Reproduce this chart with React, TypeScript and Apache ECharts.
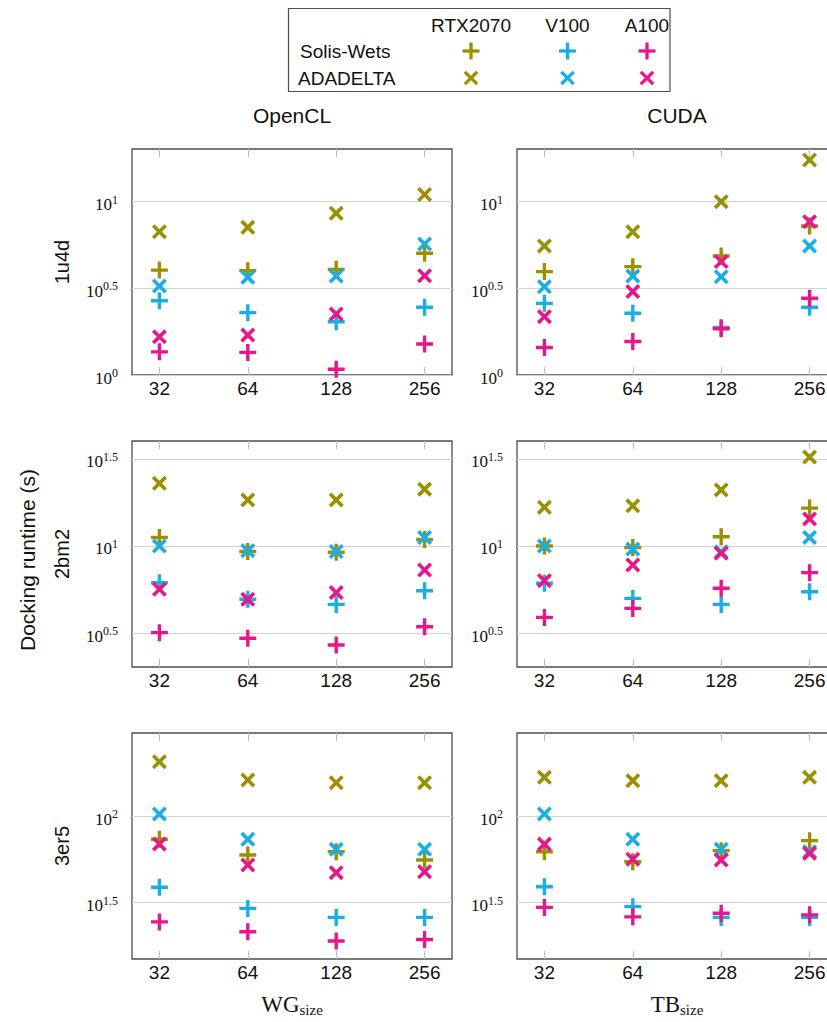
import { useEffect, useRef } from "react";
import * as echarts from "echarts";

// ---------- data ----------
const sizes = [32, 64, 128, 256];
const gpus = ["RTX2070", "V100", "A100"];
const algorithms = ["Solis-Wets", "ADADELTA"];
const apis = ["OpenCL", "CUDA"];
const molecules = ["1u4d", "2bm2", "3er5"];

// docking runtime (s); rows: RTX2070, V100, A100; columns: sizes
const openCL_1u4d_SW = [
  [4.03, 4.0, 4.07, 5.04],
  [2.68, 2.29, 2.03, 2.46],
  [1.36, 1.35, 1.08, 1.51],
];
const openCL_1u4d_AD = [
  [6.71, 7.11, 8.57, 11.0],
  [3.26, 3.66, 3.72, 5.7],
  [1.66, 1.7, 2.25, 3.74],
];
const cuda_1u4d_SW = [
  [3.95, 4.22, 4.86, 7.24],
  [2.59, 2.27, 1.88, 2.46],
  [1.44, 1.56, 1.85, 2.77],
];
const cuda_1u4d_AD = [
  [5.55, 6.71, 10.0, 17.4],
  [3.23, 3.72, 3.69, 5.55],
  [2.17, 3.03, 4.51, 7.67],
];
const openCL_2bm2_SW = [
  [11.2, 9.3, 9.2, 10.9],
  [6.15, 4.94, 4.62, 5.53],
  [3.18, 2.95, 2.7, 3.44],
];
const openCL_2bm2_AD = [
  [22.9, 18.4, 18.4, 21.2],
  [10.0, 9.4, 9.3, 11.2],
  [5.64, 4.94, 5.4, 7.28],
];
const cuda_2bm2_SW = [
  [10.0, 9.8, 11.3, 16.5],
  [6.11, 5.0, 4.62, 5.46],
  [3.89, 4.38, 5.72, 7.03],
];
const cuda_2bm2_AD = [
  [16.7, 17.0, 21.0, 32.4],
  [10.0, 9.6, 9.27, 11.2],
  [6.32, 7.78, 9.08, 14.3],
];
const openCL_3er5_SW = [
  [73.4, 59.6, 62.3, 55.7],
  [38.8, 29.3, 26.0, 26.0],
  [24.5, 21.5, 19.0, 19.4],
];
const openCL_3er5_AD = [
  [205.6, 161.4, 155.6, 155.6],
  [102.7, 73.4, 64.2, 64.2],
  [68.9, 52.2, 47.1, 47.7],
];
const cuda_3er5_SW = [
  [62.2, 54.5, 63.1, 72.1],
  [39.1, 30.0, 26.0, 26.0],
  [29.7, 26.2, 27.5, 26.9],
];
const cuda_3er5_AD = [
  [167.2, 160.0, 160.0, 167.2],
  [102.7, 73.4, 64.2, 62.2],
  [68.9, 56.3, 55.7, 60.9],
];

// y tick exponents (10^e) per row
const yTickExponents = [
  [0, 0.5, 1],
  [0.5, 1, 1.5],
  [1.5, 2],
];
const yMinExponent = [0, 0.305, 1.175];
const yMaxExponent = [1.304, 1.603, 2.479];

// ---------- styles ----------
const gpuColors = ["#9a9000", "#1aaee5", "#e8168b"];
const PLUS = "path://M6.4,0H9.6V6.4H16V9.6H9.6V16H6.4V9.6H0V6.4H6.4Z";
const CROSS =
  "path://M0,2.4L2.4,0L7,4.6L11.6,0L14,2.4L9.4,7L14,11.6L11.6,14L7,9.4L2.4,14L0,11.6L4.6,7Z";
const SANS = "Liberation Sans";
const SERIF = "Liberation Serif";
const TXT = "#111111";

const colLeft = [132, 517];
const rowTop = [149, 441, 733];
const GW = 320;
const GH = 226;

export default function App() {
  const ref = useRef<HTMLDivElement>(null);

  useEffect(() => {
    if (!ref.current) return;
    const chart = echarts.init(ref.current, null, { renderer: "svg" });

    const panels = [
      [openCL_1u4d_SW, openCL_1u4d_AD],
      [cuda_1u4d_SW, cuda_1u4d_AD],
      [openCL_2bm2_SW, openCL_2bm2_AD],
      [cuda_2bm2_SW, cuda_2bm2_AD],
      [openCL_3er5_SW, openCL_3er5_AD],
      [cuda_3er5_SW, cuda_3er5_AD],
    ];

    const grids: any[] = [];
    const xAxes: any[] = [];
    const topAxes: any[] = [];
    const yAxes: any[] = [];
    const series: any[] = [];

    const xMin = 32 * Math.pow(2, -0.31);
    const xMax = 256 * Math.pow(2, 0.31);

    panels.forEach((panel, p) => {
      const r = Math.floor(p / 2);
      const c = p % 2;
      grids.push({
        left: colLeft[c],
        top: rowTop[r],
        width: GW,
        height: GH,
        show: true,
        borderColor: "#4d4d4d",
        borderWidth: 1.3,
        backgroundColor: "transparent",
        outerBoundsMode: "none",
        containLabel: false,
      });
      const baseX = {
        gridIndex: p,
        type: "log",
        logBase: 2,
        min: xMin,
        max: xMax,
        axisLine: { show: false },
        splitLine: { show: false },
        axisTick: {
          show: true,
          inside: true,
          length: 8,
          customValues: sizes,
          lineStyle: { color: "#bdbdbd", width: 1 },
        },
      };
      xAxes.push({
        ...baseX,
        position: "bottom",
        axisLabel: {
          customValues: sizes,
          formatter: (v: number) => String(Math.round(v)),
          fontFamily: SANS,
          fontSize: 19,
          color: TXT,
          margin: 4,
        },
      });
      topAxes.push({
        ...baseX,
        position: "top",
        axisLabel: { show: false },
      });
      const ticks = yTickExponents[r].map((e) => Math.pow(10, e));
      yAxes.push({
        gridIndex: p,
        type: "log",
        logBase: 10,
        min: Math.pow(10, yMinExponent[r]),
        max: Math.pow(10, yMaxExponent[r]),
        axisLine: { show: false },
        axisTick: { show: false, customValues: ticks },
        splitLine: { show: true, lineStyle: { color: "#d2d2d2", width: 1 } },
        axisLabel: {
          customValues: ticks,
          margin: 14,
          padding: [6, 0, 0, 0],
          formatter: (v: number) => {
            const e = Math.round(Math.log10(v) * 2) / 2;
            return "{b|10}{s|" + e + "}";
          },
          rich: {
            b: {
              fontFamily: SERIF,
              fontSize: 17,
              color: TXT,
              height: 18,
              lineHeight: 18,
              verticalAlign: "bottom",
            },
            s: {
              fontFamily: SERIF,
              fontSize: 12,
              color: TXT,
              height: 8,
              lineHeight: 8,
              verticalAlign: "top",
            },
          },
        },
      });

      gpus.forEach((gpu, g) => {
        panel.forEach((alg, a) => {
          series.push({
            type: "scatter",
            name: gpu + " " + algorithms[a],
            xAxisIndex: p,
            yAxisIndex: p,
            symbol: a === 0 ? PLUS : CROSS,
            symbolSize: a === 0 ? 17 : 15,
            itemStyle: { color: gpuColors[g], opacity: 1 },
            silent: true,
            data: sizes.map((s, i) => [s, alg[g][i]]),
          });
        });
      });
    });

    // top axes use the same grids
    topAxes.forEach((ax) => xAxes.push(ax));

    const graphic: any[] = [];
    const text = (
      str: string,
      x: number,
      y: number,
      size: number,
      opts: any = {}
    ) => ({
      type: "text",
      x,
      y,
      rotation: opts.rotation || 0,
      style: {
        text: str,
        fontFamily: opts.family || SANS,
        fontSize: size,
        fill: TXT,
        align: opts.align || "center",
        verticalAlign: "middle",
        rich: opts.rich,
      },
    });

    // column titles
    apis.forEach((api, c) => {
      graphic.push(text(api, colLeft[c] + GW / 2, 115, 21));
    });
    // row labels
    molecules.forEach((m, r) => {
      graphic.push(
        text(m, 62, rowTop[r] + GH / 2, 20, { rotation: Math.PI / 2 })
      );
    });
    graphic.push(
      text("Docking runtime (s)", 27, 560, 21, { rotation: Math.PI / 2 })
    );
    // x axis names
    const subRich = {
      b: {
        fontFamily: SERIF,
        fontSize: 23,
        fill: TXT,
        height: 24,
        lineHeight: 24,
        verticalAlign: "top",
      },
      s: {
        fontFamily: SERIF,
        fontSize: 15,
        fill: TXT,
        height: 12,
        verticalAlign: "bottom",
      },
    };
    graphic.push(
      text("{b|WG}{s|size}", colLeft[0] + GW / 2, 1004, 23, { rich: subRich })
    );
    graphic.push(
      text("{b|TB}{s|size}", colLeft[1] + GW / 2, 1004, 23, { rich: subRich })
    );

    // legend table
    graphic.push({
      type: "rect",
      shape: { x: 288.5, y: 8.5, width: 381.5, height: 83 },
      style: { fill: "#fff", stroke: "#4d4d4d", lineWidth: 1.2 },
    });
    const legendX = [471, 567.5, 647];
    gpus.forEach((gpu, g) => {
      graphic.push(text(gpu, legendX[g], 25, 19));
    });
    graphic.push(text(algorithms[0], 300, 51, 19, { align: "left" }));
    graphic.push(text(algorithms[1], 298, 78, 19, { align: "left" }));
    gpus.forEach((gpu, g) => {
      const cx = legendX[g];
      const stroke = gpuColors[g];
      const ls = { stroke, lineWidth: 3.3, lineCap: "butt" };
      // plus
      graphic.push({
        type: "line",
        shape: { x1: cx - 8.5, y1: 51, x2: cx + 8.5, y2: 51 },
        style: ls,
      });
      graphic.push({
        type: "line",
        shape: { x1: cx, y1: 42.5, x2: cx, y2: 59.5 },
        style: ls,
      });
      // cross
      graphic.push({
        type: "line",
        shape: { x1: cx - 6.2, y1: 71.8, x2: cx + 6.2, y2: 84.2 },
        style: ls,
      });
      graphic.push({
        type: "line",
        shape: { x1: cx - 6.2, y1: 84.2, x2: cx + 6.2, y2: 71.8 },
        style: ls,
      });
    });

    chart.setOption({
      animation: false,
      backgroundColor: "#ffffff",
      grid: grids,
      xAxis: xAxes,
      yAxis: yAxes,
      series,
      graphic,
    });

    return () => chart.dispose();
  }, []);

  return (
    <div
      ref={ref}
      style={{
        position: "fixed",
        left: 0,
        top: 0,
        width: 827,
        height: 1022,
      }}
    />
  );
}
